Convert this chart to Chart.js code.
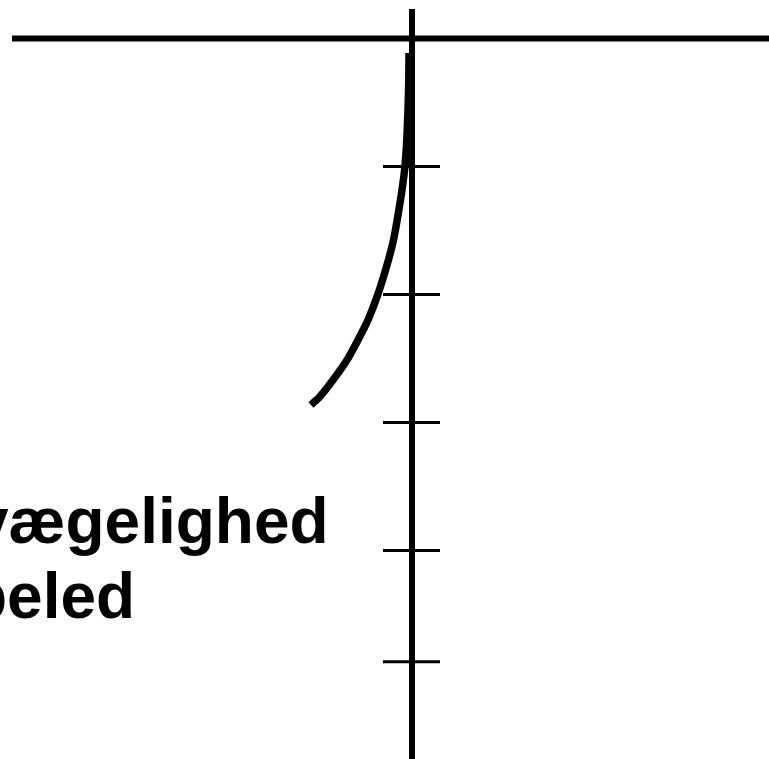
<!DOCTYPE html>
<html>
<head>
<meta charset="utf-8">
<script src="https://cdn.jsdelivr.net/npm/chart.js@4.4.0/dist/chart.umd.min.js"></script>
<style>
  html, body { margin: 0; padding: 0; background: #ffffff; overflow: hidden; }
  #wrap { position: relative; width: 769px; height: 759px; }
</style>
</head>
<body>
<div id="wrap"><canvas id="c"></canvas></div>
<script>
// ---- data (x: horizontal offset from vertical axis; y: height, axis line at 0) ----
const curveX = [-0.03, -0.032, -0.04, -0.052, -0.07, -0.10, -0.14, -0.185, -0.25, -0.34, -0.44, -0.54, -0.65, -0.79, -0.925, -1.01];
const curveY = [-0.113, -0.324, -0.559, -0.793, -0.996, -1.184, -1.379, -1.574, -1.770, -1.996, -2.199, -2.355, -2.512, -2.668, -2.801, -2.863];
const tickDepths = [1, 2, 3, 4, 4.87];
const labelLines = ['vægelighed', 'beled'];

const X_MIN = -4.12, X_MAX = 3.57;
const Y_MIN = -5.629, Y_MAX = 0.301;

const curvePts = curveX.map((x, i) => ({ x: x, y: curveY[i] }));

const datasets = [];
datasets.push({
  label: 'curve',
  data: curvePts,
  showLine: true, borderColor: '#000', borderWidth: 7.5, pointRadius: 0,
  tension: 0.2, fill: false, order: 0, borderCapStyle: 'butt', borderJoinStyle: 'round'
});
datasets.push({
  label: 'x-axis',
  data: [{ x: -4.0, y: 0 }, { x: X_MAX, y: 0 }],
  showLine: true, borderColor: '#000', borderWidth: 6, pointRadius: 0, order: 2
});
datasets.push({
  label: 'y-axis',
  data: [{ x: 0, y: 0.23 }, { x: 0, y: Y_MIN }],
  showLine: true, borderColor: '#000', borderWidth: 6, pointRadius: 0, order: 2
});
tickDepths.forEach((t, i) => {
  datasets.push({
    label: 'tick' + i,
    data: [{ x: -0.29, y: -t }, { x: 0.28, y: -t }],
    showLine: true, borderColor: '#000', borderWidth: 3, pointRadius: 0, order: 3
  });
});

const textPlugin = {
  id: 'labels',
  afterDraw(chart) {
    const ctx = chart.ctx;
    ctx.save();
    ctx.fillStyle = '#000';
    ctx.font = 'bold 64px "Liberation Sans", Arial, sans-serif';
    ctx.textBaseline = 'alphabetic';
    ctx.textAlign = 'left';
    ctx.fillText(labelLines[0], -27, 543);
    ctx.fillText(labelLines[1], -32, 618);
    ctx.restore();
  }
};

new Chart(document.getElementById('c'), {
  type: 'scatter',
  data: { datasets: datasets },
  options: {
    responsive: true,
    maintainAspectRatio: false,
    animation: false,
    layout: { padding: 0 },
    plugins: { legend: { display: false }, tooltip: { enabled: false }, title: { display: false } },
    scales: {
      x: { type: 'linear', display: false, min: X_MIN, max: X_MAX },
      y: { type: 'linear', display: false, min: Y_MIN, max: Y_MAX }
    }
  },
  plugins: [textPlugin]
});
</script>
</body>
</html>
